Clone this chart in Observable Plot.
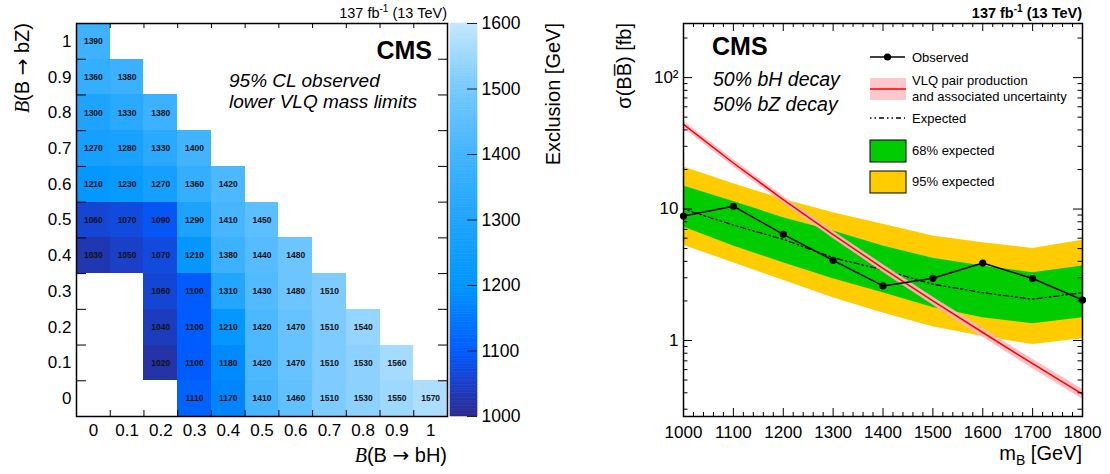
<!DOCTYPE html>
<html><head><meta charset="utf-8">
<script src="https://cdn.jsdelivr.net/npm/d3@7"></script>
<script src="https://cdn.jsdelivr.net/npm/@observablehq/plot@0.6"></script>
<style>
body{margin:0;background:#fff;}
#wrap{position:relative;width:1110px;height:474px;overflow:hidden;}
</style></head><body><div id="wrap"></div>
<script>
// ---------------- Left panel data: 95% CL observed lower VLQ mass limits [GeV]
const bHValues = [0, 0.1, 0.2, 0.3, 0.4, 0.5, 0.6, 0.7, 0.8, 0.9, 1];
const bZValues = [0, 0.1, 0.2, 0.3, 0.4, 0.5, 0.6, 0.7, 0.8, 0.9, 1];
const limitsBZ00 = [null, null, null, 1110, 1170, 1410, 1460, 1510, 1530, 1550, 1570];
const limitsBZ01 = [null, null, 1020, 1100, 1180, 1420, 1470, 1510, 1530, 1560];
const limitsBZ02 = [null, null, 1040, 1100, 1210, 1420, 1470, 1510, 1540];
const limitsBZ03 = [null, null, 1060, 1100, 1310, 1430, 1480, 1510];
const limitsBZ04 = [1030, 1050, 1070, 1210, 1380, 1440, 1480];
const limitsBZ05 = [1060, 1070, 1090, 1290, 1410, 1450];
const limitsBZ06 = [1210, 1230, 1270, 1360, 1420];
const limitsBZ07 = [1270, 1280, 1330, 1400];
const limitsBZ08 = [1300, 1330, 1380];
const limitsBZ09 = [1360, 1380];
const limitsBZ10 = [1390];
const rowLimits = [limitsBZ00, limitsBZ01, limitsBZ02, limitsBZ03, limitsBZ04, limitsBZ05,
                   limitsBZ06, limitsBZ07, limitsBZ08, limitsBZ09, limitsBZ10];
const colorbarTicks = [1000, 1100, 1200, 1300, 1400, 1500, 1600];

// ---------------- Right panel data: sigma(BBbar) [fb] vs m_B [GeV]
const massPoints = [1000, 1100, 1200, 1300, 1400, 1500, 1600, 1700, 1800];
const observed   = [8.85, 10.5, 6.42, 4.07, 2.6, 2.97, 3.88, 2.96, 2.03];
const expected   = [10.0, 7.55, 5.88, 4.26, 3.45, 2.68, 2.31, 2.06, 2.31];
const band68Low  = [7.3, 5.23, 3.9, 2.95, 2.31, 1.78, 1.49, 1.34, 1.49];
const band68High = [14.96, 11.4, 8.6, 6.8, 5.23, 4.22, 3.68, 3.28, 3.68];
const band95Low  = [5.3, 3.9, 2.87, 2.11, 1.62, 1.27, 1.07, 0.93, 1.03];
const band95High = [20.9, 15.6, 11.85, 9.37, 7.65, 6.24, 5.54, 5.02, 5.78];
const theoryXsec = [44.0, 22.4, 11.8, 6.39, 3.54, 2.00, 1.15, 0.666, 0.391];
const theoryUp   = [46.6, 23.8, 12.5, 6.80, 3.78, 2.14, 1.24, 0.72, 0.425];
const theoryDown = [41.4, 21.0, 11.1, 5.98, 3.30, 1.86, 1.06, 0.61, 0.357];
const yMajorTicks = [1, 10, 100];

// ---------------- Styling
const FONT = '"Liberation Sans", Arial, Helvetica, sans-serif';
const SERIF = '"Liberation Serif", "DejaVu Serif", serif';
const ARROWFONT = '"DejaVu Sans", sans-serif';
const baseStyle = {fontFamily: FONT, fontSize: "17px", color: "#000", background: "transparent", overflow: "visible"};
const colorScale = {
  type: "linear",
  domain: [1000, 1050, 1100, 1200, 1300, 1400, 1500, 1600],
  range: ["#2b2a8f", "#1a40c8", "#005cff", "#0096ff", "#1ea4ff", "#42b4ff", "#76c9ff", "#c4e7ff"],
  clamp: true
};

const wrap = document.getElementById("wrap");

// ---------------- Left heatmap
const cells = [];
bZValues.forEach((bz, i) => rowLimits[i].forEach((v, j) => {
  if (v != null) cells.push({bH: bHValues[j], bZ: bz, limit: v});
}));
const half = 0.05;
const cellEdges = bHValues.slice(1).map(v => v - half);
const LW = 450, LH = 474, LML = 76, LMR = 3, LMT = 23, LMB = 58;
const LIW = LW - LML - LMR, LIH = LH - LMT - LMB;

const left = Plot.plot({
  width: LW, height: LH, marginLeft: LML, marginRight: LMR, marginTop: LMT, marginBottom: LMB,
  style: baseStyle,
  x: {domain: [-half, 1 + half]},
  y: {domain: [-half, 1 + half]},
  color: colorScale,
  marks: [
    Plot.rect(cells, {x1: d => d.bH - half, x2: d => d.bH + half, y1: d => d.bZ - half, y2: d => d.bZ + half,
                      fill: "limit", shapeRendering: "crispEdges"}),
    Plot.text(cells, {x: "bH", y: "bZ", text: d => String(d.limit), fontSize: 8.5, fontWeight: "bold", fill: "#111"}),
    Plot.frame({stroke: "#000", strokeWidth: 1.5}),
    Plot.tickX(cellEdges, {x: d => d, insetTop: LIH - 6, stroke: "#000"}),
    Plot.tickX(cellEdges, {x: d => d, insetBottom: LIH - 5, stroke: "#000"}),
    Plot.tickY(cellEdges, {y: d => d, insetRight: LIW - 10, stroke: "#000"}),
    Plot.tickY(cellEdges, {y: d => d, insetLeft: LIW - 9, stroke: "#000"}),
    Plot.axisX(bHValues, {tickSize: 0, tickPadding: 7, fontSize: 17, label: null, tickFormat: d => String(d)}),
    Plot.axisY(bZValues, {tickSize: 0, tickPadding: 5, fontSize: 17, label: null, tickFormat: d => String(d)})
  ]
});
left.style.position = "absolute"; left.style.left = "0px"; left.style.top = "0px";
wrap.appendChild(left);

// ---------------- Colorbar
const colorbarSteps = d3.range(1000, 1600, 4);
const cbar = Plot.plot({
  width: 130, height: LH, marginLeft: 10, marginRight: 93, marginTop: LMT, marginBottom: LMB,
  style: baseStyle,
  x: {domain: [0, 1], axis: null},
  y: {domain: [1000, 1600]},
  color: colorScale,
  marks: [
    Plot.rect(colorbarSteps, {x1: 0, x2: 1, y1: d => d, y2: d => d + 4, fill: d => d + 2, stroke: d => d + 2, strokeWidth: 0.6}),
    Plot.tickY(colorbarTicks, {y: d => d, insetLeft: 17, stroke: "#222"}),
    Plot.axisY(colorbarTicks, {anchor: "right", tickSize: 0, tickPadding: 4, fontSize: 17.5, label: null, tickFormat: d => String(d)})
  ]
});
cbar.style.position = "absolute"; cbar.style.left = "440px"; cbar.style.top = "0px";
wrap.appendChild(cbar);

// ---------------- Right limit plot
const rows = massPoints.map((m, i) => ({
  mass: m, obs: observed[i], exp: expected[i],
  lo68: band68Low[i], hi68: band68High[i], lo95: band95Low[i], hi95: band95High[i],
  th: theoryXsec[i], thUp: theoryUp[i], thDown: theoryDown[i]
}));
const RW = 530, RML = 103, RMR = 28;
const RIW = RW - RML - RMR, RIH = LIH;
const xMajor = massPoints;
const xMinor = d3.range(1020, 1800, 20).filter(v => v % 100 !== 0);
const yMinor = [0.3, 0.4, 0.5, 0.6, 0.7, 0.8, 0.9, 2, 3, 4, 5, 6, 7, 8, 9, 20, 30, 40, 50, 60, 70, 80, 90, 200];

const right = Plot.plot({
  width: RW, height: LH, marginLeft: RML, marginRight: RMR, marginTop: LMT, marginBottom: LMB,
  style: baseStyle,
  x: {domain: [1000, 1800]},
  y: {type: "log", domain: [0.264, 258]},
  marks: [
    Plot.areaY(rows, {x: "mass", y1: "lo95", y2: "hi95", fill: "#ffcc00"}),
    Plot.areaY(rows, {x: "mass", y1: "lo68", y2: "hi68", fill: "#00cc00"}),
    Plot.line(rows, {x: "mass", y: "exp", stroke: "#000", strokeWidth: 1.3, strokeDasharray: "1.5,3,1.5,3,5,3"}),
    Plot.areaY(rows, {x: "mass", y1: "thDown", y2: "thUp", fill: "#ffb8c0", fillOpacity: 0.9}),
    Plot.line(rows, {x: "mass", y: "th", stroke: "#ff0000", strokeWidth: 1.5}),
    Plot.line(rows, {x: "mass", y: "obs", stroke: "#000", strokeWidth: 1.5}),
    Plot.dot(rows, {x: "mass", y: "obs", r: 3.6, fill: "#000"}),
    Plot.frame({stroke: "#000", strokeWidth: 1.5}),
    Plot.tickX(xMajor, {x: d => d, insetTop: RIH - 8, stroke: "#000"}),
    Plot.tickX(xMinor, {x: d => d, insetTop: RIH - 4, stroke: "#000"}),
    Plot.tickX(xMajor, {x: d => d, insetBottom: RIH - 8, stroke: "#000"}),
    Plot.tickX(xMinor, {x: d => d, insetBottom: RIH - 4, stroke: "#000"}),
    Plot.tickY(yMajorTicks, {y: d => d, insetRight: RIW - 9, stroke: "#000"}),
    Plot.tickY(yMinor, {y: d => d, insetRight: RIW - 4.5, stroke: "#000"}),
    Plot.tickY(yMajorTicks, {y: d => d, insetLeft: RIW - 9, stroke: "#000"}),
    Plot.tickY(yMinor, {y: d => d, insetLeft: RIW - 4.5, stroke: "#000"}),
    Plot.axisX(xMajor, {tickSize: 0, tickPadding: 9, fontSize: 17, label: null, tickFormat: d => String(d)}),
    Plot.axisY(yMajorTicks, {tickSize: 0, tickPadding: 5, fontSize: 17, label: null, tickFormat: d => d === 100 ? "10²" : String(d)})
  ]
});
right.style.position = "absolute"; right.style.left = "580px"; right.style.top = "0px";
wrap.appendChild(right);

// ---------------- Overlay: titles, annotations and legend
const ov = d3.create("svg").attr("width", 1110).attr("height", 474)
  .style("position", "absolute").style("left", "0px").style("top", "0px").style("pointer-events", "none")
  .attr("font-family", FONT).attr("fill", "#000");

function lumi(x, bold) {
  const t = ov.append("text").attr("x", x).attr("y", 18).attr("text-anchor", "end")
    .attr("font-size", 14.5).attr("font-weight", bold ? "bold" : "normal");
  t.append("tspan").text("137 fb");
  t.append("tspan").attr("font-size", 10).attr("dy", -6).text("-1");
  t.append("tspan").attr("dy", 6).text(" (13 TeV)");
}
lumi(447, false);
lumi(1082, true);

// left annotations
ov.append("text").attr("x", 432).attr("y", 59).attr("text-anchor", "end").attr("font-size", 25).attr("font-weight", "bold").text("CMS");
ov.append("text").attr("x", 229).attr("y", 86.5).attr("font-size", 19).attr("font-style", "italic").text("95% CL observed");
ov.append("text").attr("x", 229).attr("y", 108).attr("font-size", 19).attr("font-style", "italic").text("lower VLQ mass limits");

// left axis titles
function branchTitle(sel, decay) {
  sel.append("tspan").attr("font-family", SERIF).attr("font-style", "italic").text("B");
  sel.append("tspan").text("(B ");
  sel.append("tspan").attr("font-family", ARROWFONT).text("\u2192");
  sel.append("tspan").text(" " + decay + ")");
}
const ly = ov.append("text").attr("transform", "translate(29,23) rotate(-90)").attr("text-anchor", "end").attr("font-size", 20);
branchTitle(ly, "bZ");
const lx = ov.append("text").attr("x", 447).attr("y", 462).attr("text-anchor", "end").attr("font-size", 20);
branchTitle(lx, "bH");
ov.append("text").attr("transform", "translate(560,23) rotate(-90)").attr("text-anchor", "end").attr("font-size", 20).text("Exclusion [GeV]");

// right annotations
ov.append("text").attr("x", 712).attr("y", 55).attr("font-size", 25).attr("font-weight", "bold").text("CMS");
ov.append("text").attr("x", 713).attr("y", 86).attr("font-size", 19.5).attr("font-style", "italic").text("50% bH decay");
ov.append("text").attr("x", 713).attr("y", 111).attr("font-size", 19.5).attr("font-style", "italic").text("50% bZ decay");

// right axis titles
const ry = ov.append("text").attr("transform", "translate(631,23) rotate(-90)").attr("text-anchor", "end").attr("font-size", 20);
ry.append("tspan").text("\u03c3(B");
ry.append("tspan").text("B\u0305");
ry.append("tspan").text(") [fb]");
const rx = ov.append("text").attr("x", 1082).attr("y", 460).attr("text-anchor", "end").attr("font-size", 20);
rx.append("tspan").text("m");
rx.append("tspan").attr("font-size", 14).attr("dy", 5).text("B");
rx.append("tspan").attr("dy", -5).text(" [GeV]");

// legend
const LX = 870, LWd = 36, TX = 912, LF = 13;
ov.append("line").attr("x1", LX).attr("x2", LX + 35).attr("y1", 57).attr("y2", 57).attr("stroke", "#000").attr("stroke-width", 1.5);
ov.append("circle").attr("cx", LX + 17.5).attr("cy", 57).attr("r", 3.6).attr("fill", "#000");
ov.append("text").attr("x", TX).attr("y", 57).attr("dy", "0.35em").attr("font-size", LF).text("Observed");

ov.append("rect").attr("x", LX).attr("y", 78).attr("width", LWd).attr("height", 22).attr("fill", "#ffc8cc");
ov.append("line").attr("x1", LX).attr("x2", LX + LWd).attr("y1", 89).attr("y2", 89).attr("stroke", "#ff0000").attr("stroke-width", 1.5);
ov.append("text").attr("x", TX).attr("y", 80).attr("dy", "0.35em").attr("font-size", LF).text("VLQ pair production");
ov.append("text").attr("x", TX).attr("y", 96).attr("dy", "0.35em").attr("font-size", LF).text("and associated uncertainty");

ov.append("line").attr("x1", LX).attr("x2", LX + 35).attr("y1", 118).attr("y2", 118).attr("stroke", "#000").attr("stroke-width", 1.3).attr("stroke-dasharray", "1.5,3,1.5,3,5,3");
ov.append("text").attr("x", TX).attr("y", 118).attr("dy", "0.35em").attr("font-size", LF).text("Expected");

ov.append("rect").attr("x", LX).attr("y", 140).attr("width", LWd).attr("height", 22).attr("fill", "#00cc00").attr("stroke", "#000").attr("stroke-width", 1);
ov.append("text").attr("x", TX).attr("y", 150.5).attr("dy", "0.35em").attr("font-size", LF).text("68% expected");
ov.append("rect").attr("x", LX).attr("y", 171).attr("width", LWd).attr("height", 22).attr("fill", "#ffcc00").attr("stroke", "#000").attr("stroke-width", 1);
ov.append("text").attr("x", TX).attr("y", 181.5).attr("dy", "0.35em").attr("font-size", LF).text("95% expected");

wrap.appendChild(ov.node());
</script>
</body></html>
